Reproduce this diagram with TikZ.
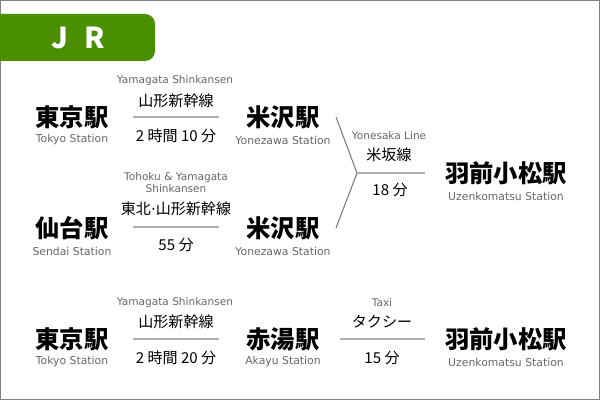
\documentclass[tikz,border=0pt]{standalone}
\usepackage{fontspec}
\setmainfont{Noto Sans CJK JP}
\newfontfamily\enfont{DejaVu Sans}
\usepackage{xcolor}
\definecolor{jrgreen}{HTML}{4A8F00}
\definecolor{subgray}{HTML}{666666}
\definecolor{rulegray}{HTML}{B0B0B0}
\definecolor{forkgray}{HTML}{707070}
\definecolor{framegray}{HTML}{808080}

\tikzset{
  station/.style={font=\fontsize{17.3}{17.3}\selectfont\bfseries, inner sep=0pt},
  stationen/.style={font=\enfont\fontsize{7.7}{8}\selectfont, text=subgray, inner sep=0pt},
  lineen/.style={font=\enfont\fontsize{7.5}{8.6}\selectfont, text=subgray, inner sep=0pt, align=center},
  linejp/.style={font=\fontsize{10.7}{11}\selectfont, inner sep=0pt},
  rail/.style={rulegray, line width=1.4pt},
  fork/.style={forkgray, line width=0.7pt},
}

\begin{document}
\begin{tikzpicture}[x=0.025cm, y=-0.025cm]
    \useasboundingbox (0,0) rectangle (600,400);
    % Frame
    \draw[framegray, line width=0.7pt] (0.5,0.5) rectangle (599.5,399.5);

    % Tab
    \fill[jrgreen, rounded corners=0.25cm] (0,14) -- (155,14) -- (155,61) -- (0,61);
    \node[font=\fontsize{20.5}{20.5}\selectfont\bfseries, text=white] (jr) at (78,38) {J\hspace{0.55em}R};

    % Tokyo -> Yonezawa
    \node[station] (tokyoA) at (72,117) {東京駅};
    \node[stationen] (tokyoAen) at (72,140) {Tokyo Station};
    \node[station] (yonezawaA) at (283,117) {米沢駅};
    \node[stationen] (yonezawaAen) at (283,140) {Yonezawa Station};
    \node[lineen] (shinA) at (175,81) {Yamagata Shinkansen};
    \node[linejp] (shinAjp) at (176,101) {山形新幹線};
    \node[linejp] (timeA) at (176,136) {2 時間 10 分};
    \coordinate (railAw) at (133,117);
    \coordinate (railAe) at (219,117);
    \draw[rail] (railAw) -- (railAe);

    % Sendai -> Yonezawa
    \node[station] (sendai) at (72,228) {仙台駅};
    \node[stationen] (sendaien) at (72,251) {Sendai Station};
    \node[station] (yonezawaB) at (283,228) {米沢駅};
    \node[stationen] (yonezawaBen) at (283,251) {Yonezawa Station};
    \node[lineen] (shinB) at (176,183) {Tohoku \& Yamagata\\Shinkansen};
    \node[linejp] (shinBjp) at (176,209) {東北{\enfont·}山形新幹線};
    \node[linejp] (timeB) at (176,245) {55 分};
    \coordinate (railBw) at (133,227);
    \coordinate (railBe) at (219,227);
    \draw[rail] (railBw) -- (railBe);

    % Yonesaka Line fork
    \coordinate (forkA) at (336,117);
    \coordinate (forkB) at (336,228);
    \coordinate (forkC) at (357,173);
    \coordinate (forkE) at (425,173);
    \draw[fork] (forkA) -- (forkC) -- (forkB);
    \draw[rail] (forkC) -- (forkE);
    \node[lineen] (yonesaka) at (389,136) {Yonesaka Line};
    \node[linejp] (yonesakajp) at (389,155) {米坂線};
    \node[linejp] (timeC) at (390,190) {18 分};
    \node[station] (uzenA) at (506,173) {羽前小松駅};
    \node[stationen] (uzenAen) at (506,196) {Uzenkomatsu Station};

    % Tokyo -> Akayu -> Uzenkomatsu
    \node[station] (tokyoB) at (72,339) {東京駅};
    \node[stationen] (tokyoBen) at (72,362) {Tokyo Station};
    \node[station] (akayu) at (283,339) {赤湯駅};
    \node[stationen] (akayuen) at (283,362) {Akayu Station};
    \node[lineen] (shinC) at (175,303) {Yamagata Shinkansen};
    \node[linejp] (shinCjp) at (176,322) {山形新幹線};
    \node[linejp] (timeD) at (176,358) {2 時間 20 分};
    \coordinate (railCw) at (133,339);
    \coordinate (railCe) at (219,339);
    \draw[rail] (railCw) -- (railCe);
    \node[lineen] (taxi) at (382,303) {Taxi};
    \node[linejp] (taxijp) at (382,322) {タクシー};
    \node[linejp] (timeE) at (382,358) {15 分};
    \coordinate (roadw) at (340,339);
    \coordinate (roade) at (425,339);
    \draw[rail] (roadw) -- (roade);
    \node[station] (uzenB) at (506,339) {羽前小松駅};
    \node[stationen] (uzenBen) at (506,362) {Uzenkomatsu Station};
\end{tikzpicture}
\end{document}
